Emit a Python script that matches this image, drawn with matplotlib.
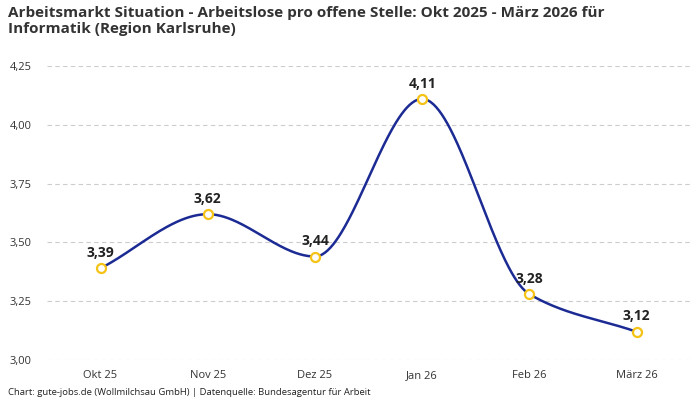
import numpy as np
import matplotlib
matplotlib.use("Agg")
import matplotlib.pyplot as plt

# Data
months = ["Okt 25", "Nov 25", "Dez 25", "Jan 26", "Feb 26", "März 26"]
values = [3.39, 3.62, 3.44, 4.11, 3.28, 3.12]
yticks = [3.00, 3.25, 3.50, 3.75, 4.00, 4.25]

title = "Arbeitsmarkt Situation - Arbeitslose pro offene Stelle: Okt 2025 - März 2026 für\nInformatik (Region Karlsruhe)"
footer = "Chart: gute-jobs.de (Wollmilchsau GmbH) | Datenquelle: Bundesagentur für Arbeit"

plt.rcParams["font.family"] = ["Open Sans", "DejaVu Sans"]


def pchip(x, y, xs):
    # monotone cubic interpolation for the smooth line
    x = np.asarray(x, float)
    y = np.asarray(y, float)
    h = np.diff(x)
    d = np.diff(y) / h
    m = np.zeros_like(y)
    for k in range(1, len(y) - 1):
        if d[k - 1] * d[k] > 0:
            w1 = 2 * h[k] + h[k - 1]
            w2 = h[k] + 2 * h[k - 1]
            m[k] = (w1 + w2) / (w1 / d[k - 1] + w2 / d[k])
    m[0] = d[0]
    m[-1] = d[-1]
    out = np.empty_like(xs)
    for i, xv in enumerate(xs):
        k = min(np.searchsorted(x, xv, side="right") - 1, len(x) - 2)
        t = (xv - x[k]) / h[k]
        h00 = 2 * t**3 - 3 * t**2 + 1
        h10 = t**3 - 2 * t**2 + t
        h01 = -2 * t**3 + 3 * t**2
        h11 = t**3 - t**2
        out[i] = h00 * y[k] + h10 * h[k] * m[k] + h01 * y[k + 1] + h11 * h[k] * m[k + 1]
    return out


x = np.arange(len(months))
xs = np.linspace(0, len(months) - 1, 400)

fig = plt.figure(figsize=(7, 4), dpi=100)
ax = fig.add_axes([0.067, 0.1, 0.919, 0.735])

ax.plot(xs, pchip(x, values, xs), color="#1c2b94", lw=1.8, zorder=3)
ax.plot(x, values, "o", ms=6.5, mfc="white", mec="#f5c316", mew=1.6, zorder=4)

for xi, v in zip(x, values):
    ax.annotate(f"{v:.2f}".replace(".", ","), (xi, v), xytext=(0, 6),
                textcoords="offset points", ha="center", va="bottom",
                fontsize=10, fontweight="bold", color="#222222")

ax.set_xlim(-0.5, len(months) - 0.5)
ax.set_ylim(3.0, 4.25)
ax.set_yticks(yticks)
ax.set_yticklabels([f"{t:.2f}".replace(".", ",") for t in yticks])
ax.set_xticks(x)
ax.set_xticklabels(months)
ax.tick_params(length=0, labelsize=8, colors="#333333")
ax.tick_params(axis="x", pad=7)
ax.tick_params(axis="y", pad=27)
for lbl in ax.get_yticklabels():
    lbl.set_horizontalalignment("left")

ax.grid(axis="y", color="#cccccc", ls=(0, (4, 3)), lw=0.8)
for s in ax.spines.values():
    s.set_visible(False)

fig.text(0.012, 0.985, title, ha="left", va="top", fontsize=11,
         fontweight="bold", color="#333333", linespacing=1.15)
fig.text(0.012, 0.008, footer, ha="left", va="bottom", fontsize=6.8, color="#222222")

fig.savefig("out.png", dpi=100)
